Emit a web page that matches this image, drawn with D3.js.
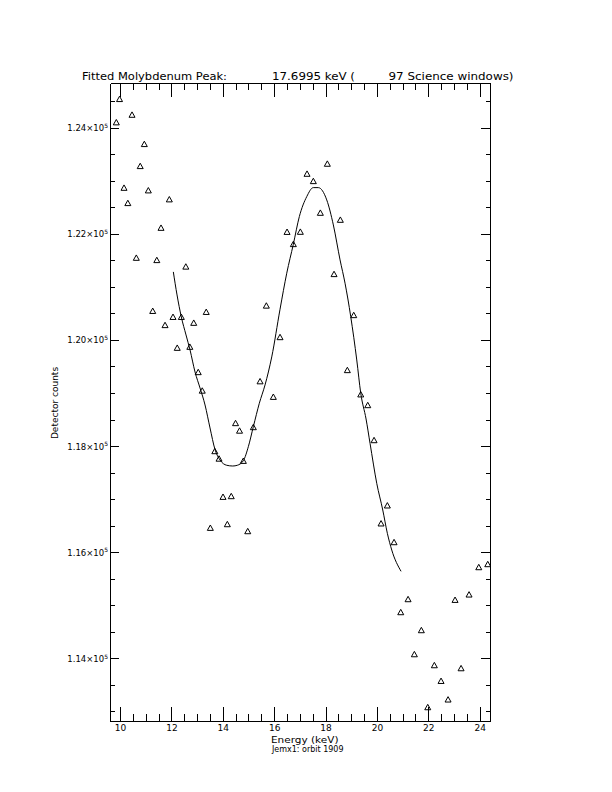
<!DOCTYPE html>
<html>
<head>
<meta charset="utf-8">
<style>
  html, body { margin: 0; padding: 0; background: #fff; }
  svg { display: block; }
</style>
</head>
<body>
<div id="chart"></div>
<script src="https://d3js.org/d3.v7.min.js"></script>
<script>
// values
const energy = [9.856, 9.981, 10.156, 10.304, 10.467, 10.634, 10.786, 10.946, 11.102, 11.273,
  11.432, 11.596, 11.752, 11.919, 12.063, 12.227, 12.386, 12.561, 12.717, 12.869,
  13.044, 13.200, 13.355, 13.515, 13.690, 13.854, 14.009, 14.177, 14.329, 14.496,
  14.652, 14.800, 14.971, 15.189, 15.450, 15.695, 15.967, 16.228, 16.501, 16.746,
  17.018, 17.279, 17.524, 17.797, 18.069, 18.330, 18.575, 18.848, 19.097, 19.369,
  19.642, 19.887, 20.160, 20.405, 20.666, 20.926, 21.211, 21.456, 21.728, 21.977,
  22.234, 22.495, 22.768, 23.040, 23.274, 23.585, 23.963, 24.313];
const counts = [124102, 124541, 122869, 122581, 124245, 121550, 123278, 123693, 122820, 120549,
  121507, 122115, 120282, 122651, 120436, 119854, 120436, 121384, 119873, 120325,
  119396, 119047, 120530, 116462, 117907, 117766, 117046, 116531, 117059, 118435,
  118293, 117724, 116399, 118359, 119223, 120649, 118930, 120055, 122038, 121808,
  122040, 123133, 122995, 122398, 123322, 121243, 122266, 119434, 120470, 118976,
  118774, 118114, 116545, 116884, 116192, 114873, 115118, 114081, 114534, 113083,
  113874, 113578, 113228, 115105, 113817, 115206, 115721, 115778];

const fitEnergy = [12.075, 12.219, 12.386, 12.569, 12.725, 12.919, 13.114, 13.309, 13.503, 13.698,
  13.893, 14.153, 14.387, 14.566, 14.800, 14.994, 15.189, 15.422, 15.644, 15.905,
  16.228, 16.489, 16.746, 16.979, 17.268, 17.524, 17.719, 18.046, 18.303, 18.564,
  18.758, 18.980, 19.214, 19.370, 19.576, 19.731, 19.992, 20.226, 20.405, 20.576, 20.938];
const fitCounts = [121281, 120847, 120432, 120093, 119811, 119396, 119094, 118774, 118341, 117933,
  117737, 117638, 117624, 117638, 117724, 117988, 118365, 118806, 119151, 119679,
  120578, 121256, 121803, 122323, 122700, 122869, 122869, 122637, 122166, 121507,
  121068, 120438, 119622, 118994, 118510, 118052, 117298, 116795, 116356, 116041, 115640];

const xDomain = [9.61, 24.4];
const yDomain = [112820, 124840];
const xTickValues = [10, 12, 14, 16, 18, 20, 22, 24];
const yTickValues = [114000, 116000, 118000, 120000, 122000, 124000];
const yTickLabels = ['1.14', '1.16', '1.18', '1.20', '1.22', '1.24'];

const titleParts = ['Fitted Molybdenum Peak:', '17.6995 keV (', '97 Science windows)'];
const xTitle = 'Energy (keV)';
const subTitle = 'Jemx1: orbit 1909';
const yTitle = 'Detector counts';

const option = {
  width: 612,
  height: 792,
  margin: {top: 83, right: 122, bottom: 71, left: 110},
  font: '"DejaVu Sans", sans-serif'
};

const svg = d3.select('#chart')
    .append('svg')
    .attr('width', option.width)
    .attr('height', option.height)
    .style('background', '#fff');

const plotLeft = option.margin.left;
const plotRight = option.width - option.margin.right;
const plotTop = option.margin.top;
const plotBottom = option.height - option.margin.bottom;

const x = d3.scaleLinear().domain(xDomain).range([plotLeft, plotRight]);
const y = d3.scaleLinear().domain(yDomain).range([plotBottom, plotTop]);

const xMinor = d3.range(21, 49).map((d) => d / 2).filter((d) => d % 2 !== 0);
const yMinor = d3.range(113000, 124501, 500).filter((d) => d % 2000 !== 0);

const styleAxis = (g) => {
  g.selectAll('path').attr('stroke', '#000').attr('stroke-width', 1);
  g.selectAll('line').attr('stroke', '#000').attr('stroke-width', 1);
  g.attr('shape-rendering', 'crispEdges');
};

const addAxis = (axis, transform, values, size, labels) => {
  const g = svg.append('g')
      .attr('transform', transform)
      .call(axis.tickValues(values)
          .tickSizeInner(-size)
          .tickSizeOuter(0)
          .tickFormat(labels ? labels : () => ''));
  styleAxis(g);
  if (!labels) g.select('.domain').remove();
  return g;
};

// bottom
const xAxisG = addAxis(d3.axisBottom(x).tickPadding(4), `translate(0,${plotBottom})`,
    xTickValues, 14, d3.format('d'));
xAxisG.selectAll('text')
    .attr('font-family', option.font)
    .attr('font-size', 9)
    .attr('fill', '#000');
addAxis(d3.axisBottom(x), `translate(0,${plotBottom})`, xMinor, 7);

// top
addAxis(d3.axisTop(x), `translate(0,${plotTop})`, xTickValues, 14, () => '')
    .selectAll('text').remove();
addAxis(d3.axisTop(x), `translate(0,${plotTop})`, xMinor, 7);

// left
const yAxisG = addAxis(d3.axisLeft(y).tickPadding(2), `translate(${plotLeft},0)`,
    yTickValues, 9, (d, i) => yTickLabels[i] + '\u00d710');
yAxisG.selectAll('text')
    .attr('font-family', option.font)
    .attr('font-size', 8.5)
    .attr('fill', '#000')
    .attr('dy', '0.36em')
    .append('tspan')
    .attr('font-size', 6)
    .attr('dy', '-0.55em')
    .text('5');
addAxis(d3.axisLeft(y), `translate(${plotLeft},0)`, yMinor, 4.5);

// right
addAxis(d3.axisRight(y), `translate(${plotRight},0)`, yTickValues, 9, () => '')
    .selectAll('text').remove();
addAxis(d3.axisRight(y), `translate(${plotRight},0)`, yMinor, 4.5);

// marks
svg.append('clipPath')
    .attr('id', 'plot-clip')
    .append('rect')
    .attr('x', plotLeft)
    .attr('y', plotTop)
    .attr('width', plotRight - plotLeft)
    .attr('height', plotBottom - plotTop);

const plot = svg.append('g').attr('clip-path', 'url(#plot-clip)');

const points = energy.map((e, i) => ({x: e, y: counts[i]}));
plot.append('g')
    .selectAll('path')
    .data(points)
    .join('path')
    .attr('transform', (d) => `translate(${x(d.x)},${y(d.y)})`)
    .attr('d', 'M-3,2.7L0,-2.7L3,2.7Z')
    .attr('fill', 'none')
    .attr('stroke', '#000')
    .attr('stroke-width', 1);

const fit = fitEnergy.map((e, i) => ({x: e, y: fitCounts[i]}));
plot.append('path')
    .datum(fit)
    .attr('fill', 'none')
    .attr('stroke', '#000')
    .attr('stroke-width', 1)
    .attr('d', d3.line()
        .curve(d3.curveMonotoneX)
        .x((d) => x(d.x))
        .y((d) => y(d.y)));

// titles
const titleX = [82, 272, 388.5];
const titleW = [145, 83, 125];
svg.append('g')
    .selectAll('text')
    .data(titleParts)
    .join('text')
    .attr('x', (d, i) => titleX[i])
    .attr('y', 79.5)
    .attr('textLength', (d, i) => titleW[i])
    .attr('lengthAdjust', 'spacingAndGlyphs')
    .attr('font-family', option.font)
    .attr('font-size', 11)
    .attr('fill', '#000')
    .text((d) => d);

svg.append('text')
    .attr('x', 271)
    .attr('y', 742.5)
    .attr('textLength', 67.5)
    .attr('lengthAdjust', 'spacingAndGlyphs')
    .attr('font-family', option.font)
    .attr('font-size', 9)
    .attr('fill', '#000')
    .text(xTitle);

svg.append('text')
    .attr('x', 272)
    .attr('y', 751.5)
    .attr('textLength', 71.5)
    .attr('lengthAdjust', 'spacingAndGlyphs')
    .attr('font-family', option.font)
    .attr('font-size', 9)
    .attr('fill', '#000')
    .text(subTitle);

svg.append('text')
    .attr('transform', 'translate(57.5,403) rotate(-90)')
    .attr('text-anchor', 'middle')
    .attr('font-family', option.font)
    .attr('font-size', 9)
    .attr('fill', '#000')
    .text(yTitle);
</script>
</body>
</html>
